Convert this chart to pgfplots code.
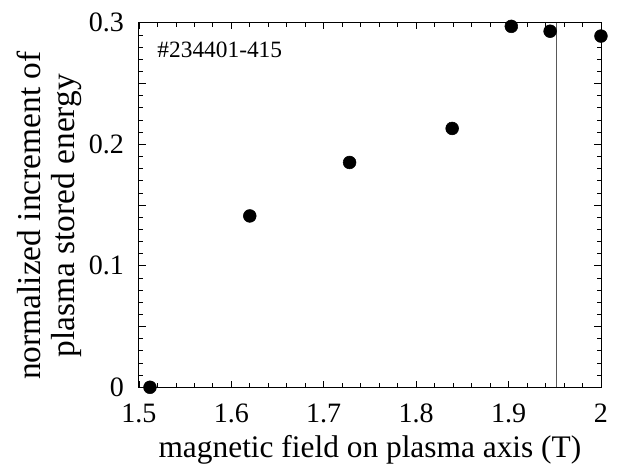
\documentclass[border=0pt]{standalone}
\usepackage{pgfplots}
\pgfplotsset{compat=1.18}
\usepackage{fontspec}
\setmainfont{Liberation Serif}
\begin{document}
\begin{tikzpicture}
\begin{axis}[
  scale only axis,
  width=346pt, height=273pt,
  xmin=1.5, xmax=2, ymin=0, ymax=0.3,
  xtick={1.5,1.6,...,2.0},
  ytick={0,0.1,0.2,0.3},
  xticklabels={1.5,1.6,1.7,1.8,1.9,2},
  yticklabels={0,0.1,0.2,0.3},
  minor x tick num=4,
  minor y tick num=9,
  extra y ticks={0.05,0.15,0.25},
  extra y tick labels={},
  tick align=inside,
  tick pos=both,
  major tick length=5pt,
  minor tick length=3pt,
  every tick/.style={black, line width=0.5pt},
  axis line style={line width=0.6pt},
  tick label style={font=\fontsize{21}{24}\selectfont, inner sep=0pt},
  xticklabel style={yshift=-12pt},
  yticklabel style={xshift=-11pt},
  xlabel style={font=\fontsize{23.5}{26}\selectfont, yshift=-6pt},
  ylabel style={font=\fontsize{25}{25}\selectfont, align=center, yshift=2pt, xshift=-8pt},
  xlabel={magnetic field on plasma axis (T)},
  ylabel={normalized increment of\\plasma stored energy},
  clip=false,
  /pgf/number format/assume math mode=true,
]
\addplot[gray!70!black, line width=0.6pt] coordinates {(1.952,0) (1.952,0.3)};
\addplot[only marks, mark=*, mark size=4.8pt, black] coordinates {
(1.512,0.000)
(1.620,0.141)
(1.728,0.185)
(1.839,0.213)
(1.903,0.297)
(1.945,0.293)
(2.000,0.289)
};
\node[anchor=west, font=\fontsize{17.5}{20}\selectfont] at (axis cs:1.515,0.278) {\#234401-415};
\end{axis}
\pgfresetboundingbox
\path (-104pt,-61pt) rectangle (365.5pt,290pt);
\end{tikzpicture}
\end{document}
